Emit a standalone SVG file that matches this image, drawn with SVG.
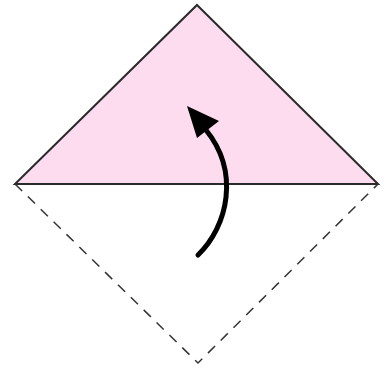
<svg xmlns="http://www.w3.org/2000/svg" width="386" height="371" viewBox="0 0 386 371">
<style>
.dash{fill:none;stroke:#333;stroke-width:1.5;stroke-dasharray:10 8}
.arrow{fill:none;stroke:#000;stroke-width:5;stroke-linecap:round}
</style>
<rect width="386" height="371" fill="#fff"/>
<g id="flap">
<polygon points="197,5 378,184 15,184" fill="#fcdcee" stroke="#2a2a2a" stroke-width="2" stroke-linejoin="miter"/>
</g>
<g id="hidden">
<polyline class="dash" points="15,184 198,363 378,184"/>
</g>
<g id="connectors">
<path class="arrow" d="M198,255 C228,226 240,172 206,130"/>
<polygon points="187,106 219,121 197,138" fill="#000"/>
</g>
</svg>
